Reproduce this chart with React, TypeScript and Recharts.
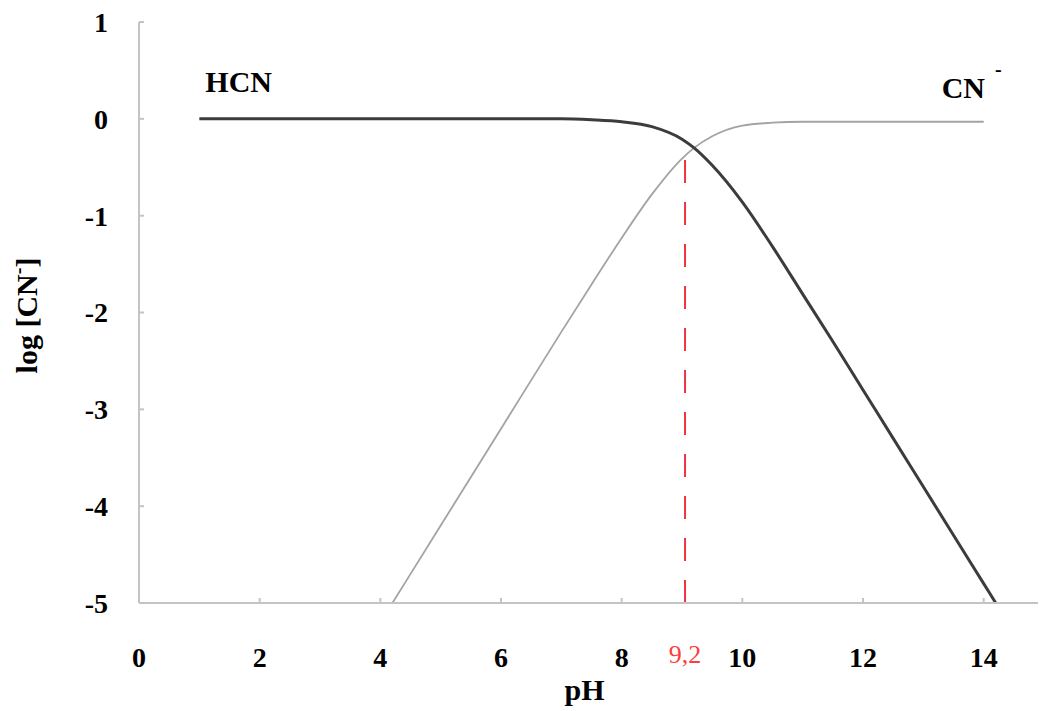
import React from 'react';
import { LineChart, Line, XAxis, YAxis, ReferenceLine, ReferenceDot } from 'recharts';

// HCN curve (log concentration vs pH)
const hcnPH = [1, 2, 3, 4, 5, 6, 7, 7.5, 8, 8.5, 9, 9.2, 9.5, 10, 10.5, 11, 11.5, 12, 12.5, 13, 13.5, 14, 14.2];
const hcnLog = [0, 0, 0, 0, 0, 0, 0, -0.01, -0.03, -0.08, -0.21, -0.3, -0.48, -0.86, -1.32, -1.81, -2.3, -2.8, -3.3, -3.8, -4.3, -4.8, -5.0];

// CN- curve
const cnPH = [4.2, 5, 6, 7, 7.5, 8, 8.5, 9, 9.2, 9.5, 10, 10.5, 11, 12, 13, 14];
const cnLog = [-5.0, -4.2, -3.2, -2.2, -1.71, -1.23, -0.78, -0.41, -0.3, -0.18, -0.07, -0.04, -0.03, -0.03, -0.03, -0.03];

const xTicks = [0, 2, 4, 6, 8, 10, 12, 14];
const yTicks = [-5, -4, -3, -2, -1, 0, 1];
const xDomain = [0, 14.9];
const yDomain = [-5, 1];

const pKaText = '9,2';
const pKaMarkX = 9.05;
const pKaMarkTop = -0.38;

const hcnData = hcnPH.map((x, i) => ({ pH: x, v: hcnLog[i] }));
const cnData = cnPH.map((x, i) => ({ pH: x, v: cnLog[i] }));

const FONT = '"Liberation Serif", "Times New Roman", serif';
const AXIS_GRAY = '#c4c4c4';

const tickStyle = { fill: '#000', fontSize: 28, fontWeight: 'bold', fontFamily: FONT };

export default function App() {
  return (
    <div style={{ position: 'fixed', left: 0, top: 0, width: 1040, height: 711, overflow: 'hidden', background: '#fff' }}>
      <LineChart width={1040} height={711} margin={{ top: 22, right: 2, left: 0, bottom: 0 }} style={{ display: 'block' }}>
        <XAxis
          dataKey="pH"
          type="number"
          domain={xDomain}
          ticks={xTicks}
          interval={0}
          allowDataOverflow
          height={108}
          axisLine={{ stroke: AXIS_GRAY, strokeWidth: 2 }}
          tickLine={{ stroke: AXIS_GRAY, strokeWidth: 2 }}
          tickSize={-5}
          tickMargin={49}
          tick={tickStyle}
          label={{
            content: (props: any) => {
              const vb = props.viewBox;
              return (
                <text x={vb.x + vb.width / 2 - 4} y={vb.y + 97} textAnchor="middle" fontFamily={FONT} fontWeight="bold" fontSize={30} fill="#000">
                  pH
                </text>
              );
            },
          }}
        />
        <XAxis xAxisId="top" orientation="top" type="number" domain={xDomain} height={0} tick={false} tickLine={false} axisLine={{ stroke: AXIS_GRAY, strokeWidth: 2 }} />
        <YAxis
          type="number"
          domain={yDomain}
          ticks={yTicks}
          interval={0}
          allowDataOverflow
          width={139}
          axisLine={{ stroke: AXIS_GRAY, strokeWidth: 2 }}
          tickLine={{ stroke: AXIS_GRAY, strokeWidth: 2 }}
          tickSize={-5}
          tickMargin={36}
          tick={tickStyle}
          label={{
            content: (props: any) => {
              const vb = props.viewBox;
              const cx = vb.x + 37;
              const cy = vb.y + vb.height / 2 + 3;
              return (
                <text x={cx} y={cy} transform={`rotate(-90 ${cx} ${cy})`} textAnchor="middle" fontFamily={FONT} fontWeight="bold" fontSize={30} fill="#000">
                  log [CN<tspan dy={-12} fontSize={20}>-</tspan><tspan dy={12}>]</tspan>
                </text>
              );
            },
          }}
        />
        <YAxis yAxisId="right" orientation="right" type="number" domain={yDomain} width={0} tick={false} tickLine={false} axisLine={{ stroke: AXIS_GRAY, strokeWidth: 2 }} />

        <Line data={cnData} dataKey="v" type="monotone" stroke="#a3a3a3" strokeWidth={1.8} dot={false} isAnimationActive={false} />
        <Line data={hcnData} dataKey="v" type="monotone" stroke="#3c3c3c" strokeWidth={3} dot={false} isAnimationActive={false} />

        <ReferenceLine
          segment={[{ x: pKaMarkX, y: yDomain[0] }, { x: pKaMarkX, y: pKaMarkTop }]}
          stroke="#ef3340"
          strokeWidth={2}
          strokeDasharray="23 19"
          ifOverflow="visible"
        />
        <ReferenceDot
          x={pKaMarkX}
          y={yDomain[0]}
          r={0}
          ifOverflow="visible"
          label={{
            content: (props: any) => {
              const vb = props.viewBox;
              return (
                <text x={vb.x} y={vb.y + 60} textAnchor="middle" fontFamily={FONT} fontSize={26} fill="#ff3b3b">
                  {pKaText}
                </text>
              );
            },
          }}
        />
        <ReferenceDot
          x={hcnPH[0]}
          y={hcnLog[0]}
          r={0}
          label={{
            content: (props: any) => {
              const vb = props.viewBox;
              return (
                <text x={vb.x + 6} y={vb.y - 27} textAnchor="start" fontFamily={FONT} fontWeight="bold" fontSize={30} fill="#000">
                  HCN
                </text>
              );
            },
          }}
        />
        <ReferenceDot
          x={cnPH[cnPH.length - 1]}
          y={cnLog[cnLog.length - 1]}
          r={0}
          label={{
            content: (props: any) => {
              const vb = props.viewBox;
              return (
                <text x={vb.x - 42} y={vb.y - 24} textAnchor="start" fontFamily={FONT} fontWeight="bold" fontSize={30} fill="#000">
                  CN<tspan dx={10} dy={-22} fontSize={20}>-</tspan>
                </text>
              );
            },
          }}
        />
      </LineChart>
    </div>
  );
}
